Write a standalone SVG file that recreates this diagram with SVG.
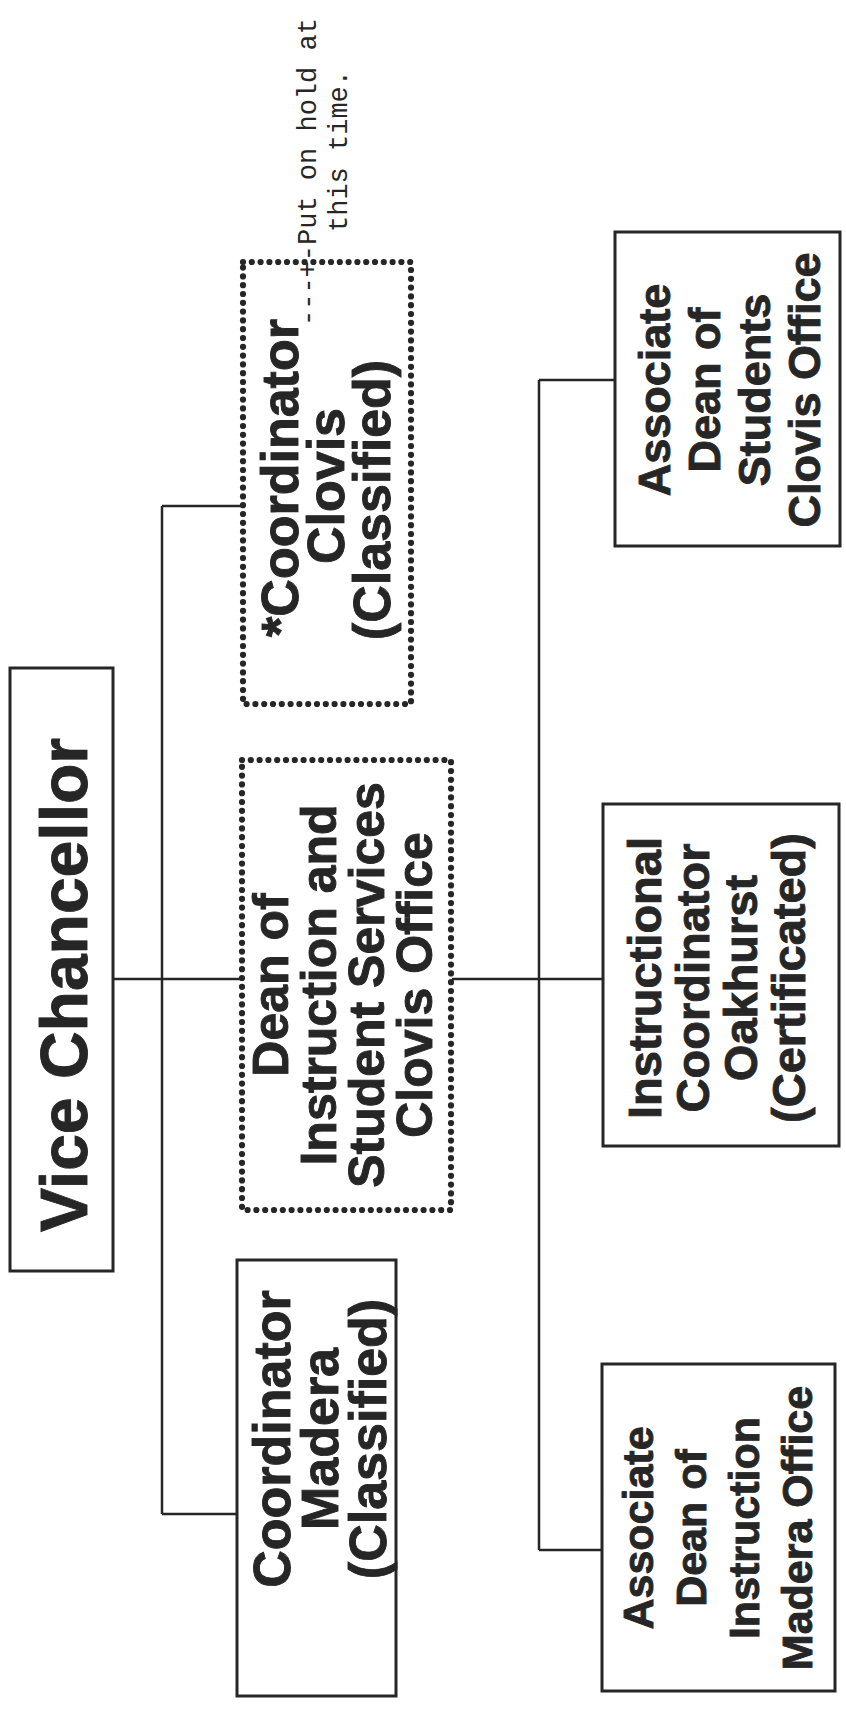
<svg xmlns="http://www.w3.org/2000/svg" width="846" height="1713" viewBox="0 0 846 1713">
<style>
.box{fill:#fff;stroke:#262626;stroke-width:3}
.dot{fill:#fff;stroke:#262626;stroke-width:6.2;stroke-dasharray:0 8.8;stroke-linecap:round}
.ln{stroke:#262626;stroke-width:2.5;fill:none}
.t{font-family:"Liberation Sans",Arial,sans-serif;font-weight:bold;fill:#262626;stroke:#262626;stroke-width:0.9;text-anchor:middle}
.m{font-family:"Liberation Mono","Courier New",monospace;fill:#262626;font-size:27px}
</style>
<rect width="846" height="1713" fill="#fff"/>
<g id="connectors">
<line class="ln" x1="113" y1="979" x2="242" y2="979"/>
<line class="ln" x1="162" y1="506" x2="162" y2="1514"/>
<line class="ln" x1="162" y1="506" x2="242" y2="506"/>
<line class="ln" x1="162" y1="1514" x2="237" y2="1514"/>
<line class="ln" x1="452" y1="979" x2="603" y2="979"/>
<line class="ln" x1="539" y1="380" x2="539" y2="1550"/>
<line class="ln" x1="539" y1="380" x2="615" y2="380"/>
<line class="ln" x1="539" y1="1550" x2="602" y2="1550"/>
</g>
<g id="vice-chancellor">
<rect class="box" x="10" y="668" width="103" height="603"/>
<text class="t" font-size="66" transform="translate(87,985) rotate(-90)">Vice Chancellor</text>
</g>
<g id="coordinator-clovis">
<rect class="dot" x="243" y="262" width="168" height="442"/>
<text class="t" font-size="52" transform="translate(298,478) rotate(-90)">*Coordinator</text>
<text class="t" font-size="52" transform="translate(344,486) rotate(-90)">Clovis</text>
<text class="t" font-size="52" transform="translate(390,500) rotate(-90)">(Classified)</text>
</g>
<g id="hold-note">
<text class="m" transform="translate(316,326) rotate(-90)">---+-Put on hold at</text>
<text class="m" transform="translate(347,232) rotate(-90)">this time.</text>
</g>
<g id="dean-clovis">
<rect class="dot" x="242" y="760" width="209" height="450"/>
<g class="t" font-size="50" transform="translate(0,985) rotate(-90)">
<text x="0" y="288">Dean of</text>
<text x="0" y="336">Instruction and</text>
<text x="0" y="384">Student Services</text>
<text x="0" y="432">Clovis Office</text>
</g>
</g>
<g id="coordinator-madera">
<rect class="box" x="237" y="1260" width="159" height="436"/>
<g class="t" font-size="52" transform="translate(0,1439) rotate(-90)">
<text x="0" y="290">Coordinator</text>
<text x="0" y="338">Madera</text>
<text x="0" y="386">(Classified)</text>
</g>
</g>
<g id="assoc-dean-students">
<rect class="box" x="615" y="232" width="225" height="314"/>
<g class="t" font-size="45" transform="translate(0,390) rotate(-90)">
<text x="0" y="670">Associate</text>
<text x="0" y="720">Dean of</text>
<text x="0" y="770">Students</text>
<text x="0" y="820">Clovis Office</text>
</g>
</g>
<g id="instructional-coordinator">
<rect class="box" x="603" y="804" width="236" height="342"/>
<g class="t" font-size="47" transform="translate(0,978) rotate(-90)">
<text x="0" y="661">Instructional</text>
<text x="0" y="709">Coordinator</text>
<text x="0" y="757">Oakhurst</text>
<text x="0" y="805">(Certificated)</text>
</g>
</g>
<g id="assoc-dean-madera">
<rect class="box" x="602" y="1364" width="233" height="327"/>
<g class="t" font-size="43" transform="translate(0,1528) rotate(-90)">
<text x="0" y="653">Associate</text>
<text x="0" y="706">Dean of</text>
<text x="0" y="759">Instruction</text>
<text x="0" y="812">Madera Office</text>
</g>
</g>
</svg>
